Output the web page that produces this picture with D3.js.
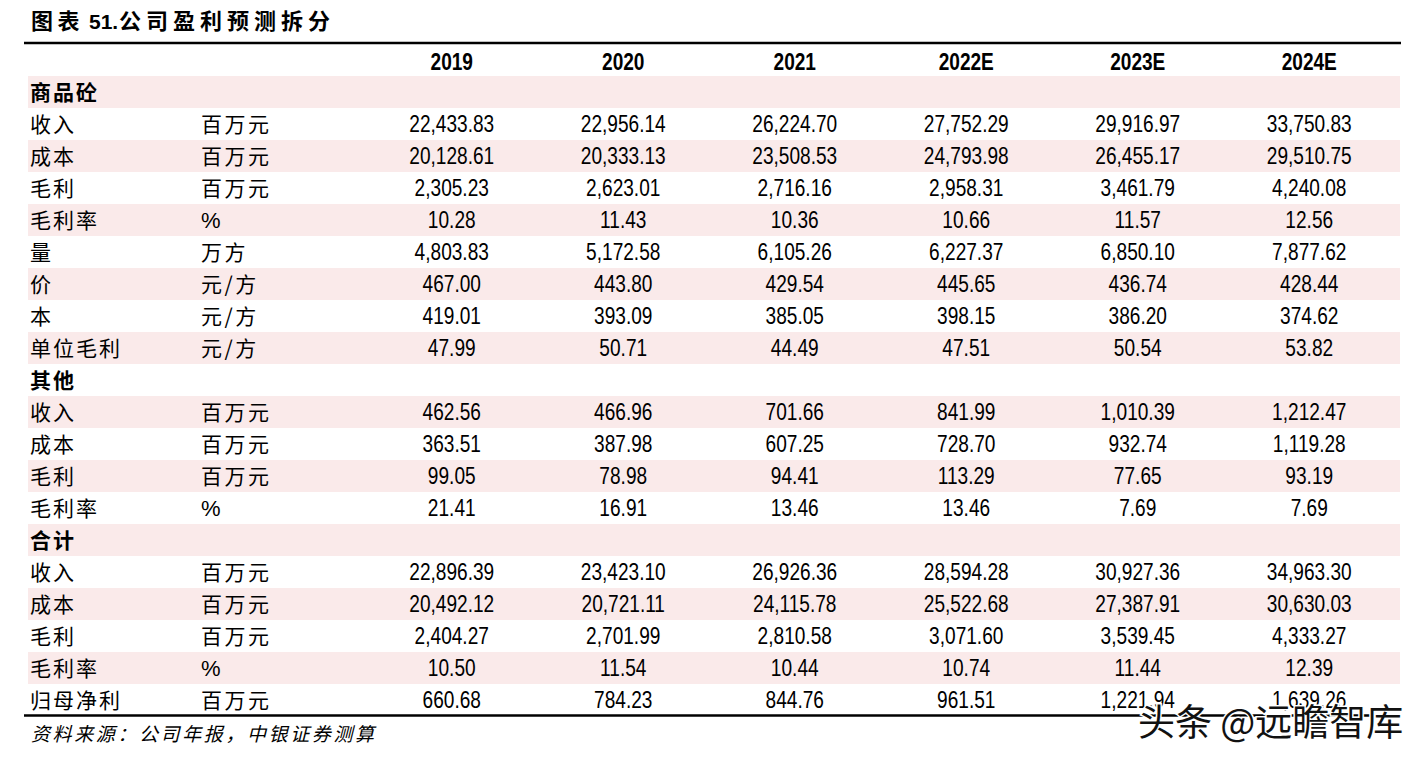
<!DOCTYPE html>
<html>
<head>
<meta charset="utf-8">
<script src="https://cdn.jsdelivr.net/npm/d3@7/dist/d3.min.js"></script>
<style>
  html, body { margin: 0; padding: 0; background: #fff; }
  svg { display: block; }
</style>
</head>
<body>
<svg id="chart" width="1421" height="760"></svg>
<script>
// ---------- data ----------
const title = "公司盈利预测拆分";
const years = ["2019", "2020", "2021", "2022E", "2023E", "2024E"];
const rowLabels = ["商品砼", "收入", "成本", "毛利", "毛利率", "量", "价", "本", "单位毛利",
                   "其他", "收入", "成本", "毛利", "毛利率",
                   "合计", "收入", "成本", "毛利", "毛利率", "归母净利"];
const rowUnits = ["", "百万元", "百万元", "百万元", "%", "万方", "元/方", "元/方", "元/方",
                  "", "百万元", "百万元", "百万元", "%",
                  "", "百万元", "百万元", "百万元", "%", "百万元"];
const sectionRows = [0, 9, 14];
const v2019 = [null, 22433.83, 20128.61, 2305.23, 10.28, 4803.83, 467.00, 419.01, 47.99,
               null, 462.56, 363.51, 99.05, 21.41,
               null, 22896.39, 20492.12, 2404.27, 10.50, 660.68];
const v2020 = [null, 22956.14, 20333.13, 2623.01, 11.43, 5172.58, 443.80, 393.09, 50.71,
               null, 466.96, 387.98, 78.98, 16.91,
               null, 23423.10, 20721.11, 2701.99, 11.54, 784.23];
const v2021 = [null, 26224.70, 23508.53, 2716.16, 10.36, 6105.26, 429.54, 385.05, 44.49,
               null, 701.66, 607.25, 94.41, 13.46,
               null, 26926.36, 24115.78, 2810.58, 10.44, 844.76];
const v2022 = [null, 27752.29, 24793.98, 2958.31, 10.66, 6227.37, 445.65, 398.15, 47.51,
               null, 841.99, 728.70, 113.29, 13.46,
               null, 28594.28, 25522.68, 3071.60, 10.74, 961.51];
const v2023 = [null, 29916.97, 26455.17, 3461.79, 11.57, 6850.10, 436.74, 386.20, 50.54,
               null, 1010.39, 932.74, 77.65, 7.69,
               null, 30927.36, 27387.91, 3539.45, 11.44, 1221.94];
const v2024 = [null, 33750.83, 29510.75, 4240.08, 12.56, 7877.62, 428.44, 374.62, 53.82,
               null, 1212.47, 1119.28, 93.19, 7.69,
               null, 34963.30, 30630.03, 4333.27, 12.39, 1639.26];
const source = "资料来源：公司年报，中银证券测算";
const watermark = "头条 @远瞻智库";

// ---------- build ----------
const seriesByYear = [v2019, v2020, v2021, v2022, v2023, v2024];
const cells = [];
rowLabels.forEach((lab, r) => {
  years.forEach((y, c) => {
    const v = seriesByYear[c][r];
    if (v !== null) cells.push({ row: r, year: y, value: v });
  });
});

const svg = d3.select("#chart");
const fmt = d3.format(",.2f");
const NARROW = 0.83;
const cjk = "'Noto Sans CJK SC', 'Noto Sans', sans-serif";
const latin = "'Liberation Sans', Arial, sans-serif";

const x = d3.scaleBand().domain(years).range([366, 1395]);
const y = d3.scaleBand().domain(d3.range(rowLabels.length)).range([76, 716]);

// title
const t = svg.append("text").attr("y", 29)
  .attr("font-family", cjk).attr("font-weight", 700).attr("font-size", 22).attr("fill", "#000");
t.append("tspan").attr("x", 31).attr("letter-spacing", 4.5).text("图表");
t.append("tspan").attr("x", 89).attr("font-family", latin).attr("font-size", 21).text("51.");
t.append("tspan").attr("x", 119).attr("letter-spacing", 5).text(title);

// shading
svg.append("g").selectAll("rect")
  .data(d3.range(rowLabels.length).filter(i => i % 2 === 0))
  .join("rect")
  .attr("x", 28).attr("width", 1372)
  .attr("y", d => y(d)).attr("height", y.bandwidth())
  .attr("fill", "#FAEAEA");

// rules
svg.append("line").attr("x1", 24).attr("x2", 1401).attr("y1", 43).attr("y2", 43)
  .attr("stroke", "#000").attr("stroke-width", 2.5);
svg.append("line").attr("x1", 24).attr("x2", 1401).attr("y1", 715.5).attr("y2", 715.5)
  .attr("stroke", "#000").attr("stroke-width", 2.5);

// header years
svg.append("g").selectAll("text").data(years).join("text")
  .attr("transform", d => `translate(${x(d) + x.bandwidth() / 2},69.5) scale(${NARROW},1)`)
  .attr("text-anchor", "middle")
  .attr("font-family", latin).attr("font-weight", 700).attr("font-size", 23)
  .attr("fill", "#000")
  .text(d => d);

// row labels
svg.append("g").selectAll("text").data(rowLabels.map((l, i) => ({ l, i }))).join("text")
  .attr("x", 30)
  .attr("y", d => y(d.i) + y.bandwidth() / 2 + 8)
  .attr("font-family", cjk)
  .attr("font-weight", d => sectionRows.includes(d.i) ? 700 : 400)
  .attr("font-size", 21).attr("letter-spacing", 2)
  .attr("fill", "#000")
  .text(d => d.l);

// units
svg.append("g").selectAll("text").data(rowUnits.map((u, i) => ({ u, i })).filter(d => d.u)).join("text")
  .attr("x", 201)
  .attr("y", d => y(d.i) + y.bandwidth() / 2 + 8)
  .attr("font-family", d => d.u === "%" ? latin : cjk)
  .attr("font-size", d => d.u === "%" ? 22 : 21)
  .attr("letter-spacing", d => d.u === "%" ? 0 : 2.5)
  .attr("fill", "#000")
  .text(d => d.u);

// values
svg.append("g").selectAll("text").data(cells).join("text")
  .attr("transform", d => `translate(${x(d.year) + x.bandwidth() / 2},${y(d.row) + y.bandwidth() / 2 + 7.8}) scale(${NARROW},1)`)
  .attr("text-anchor", "middle")
  .attr("font-family", latin).attr("font-size", 23)
  .attr("fill", "#000")
  .text(d => fmt(d.value));

// source note
svg.append("text").attr("x", 31).attr("y", 741)
  .attr("font-family", cjk).attr("font-style", "italic")
  .attr("font-size", 19).attr("letter-spacing", 2.6)
  .attr("fill", "#000")
  .text(source);

// watermark
svg.append("text").attr("x", 1138).attr("y", 736)
  .attr("font-family", cjk).attr("font-size", 37)
  .attr("fill", "#111").attr("stroke", "#fff").attr("stroke-width", 3)
  .attr("paint-order", "stroke")
  .text(watermark);
</script>
</body>
</html>
